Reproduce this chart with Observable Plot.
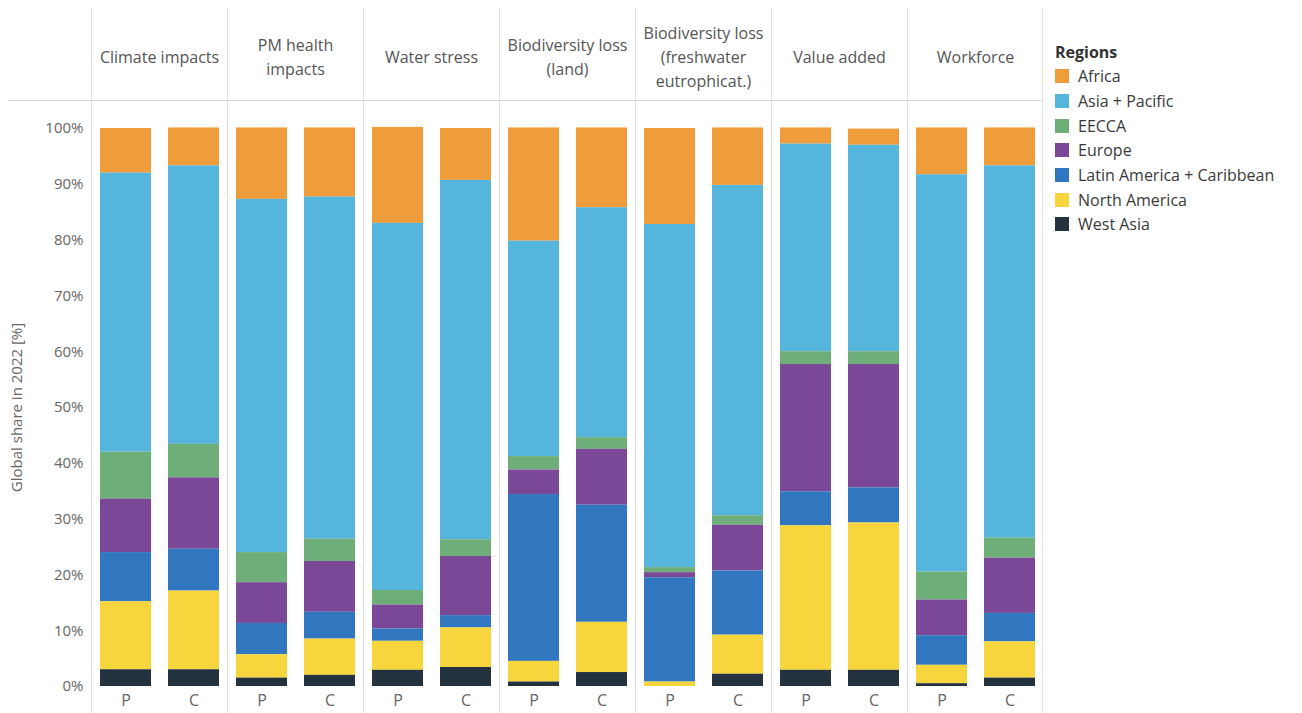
<!DOCTYPE html>
<html><head><meta charset="utf-8">
<script src="https://cdn.jsdelivr.net/npm/d3@7"></script>
<script src="https://cdn.jsdelivr.net/npm/@observablehq/plot@0.6"></script>
<style>
body{margin:0;background:#fff;font-family:"Open Sans",Lato,sans-serif;}
#wrap{position:relative;width:1302px;height:713px;overflow:hidden;}
#legend{position:absolute;left:1055px;top:40px;font-size:16px;color:#3a3a3a;}
#legend .ttl{font-weight:bold;height:24px;line-height:24px;color:#333;}
#legend .it{display:flex;align-items:center;height:24.7px;}
#legend .sw{width:14px;height:14px;margin-right:9px;}
</style></head>
<body><div id="wrap"><div id="chart"></div><div id="legend"></div></div>
<script>
const indicators = ["Climate impacts","PM health impacts","Water stress","Biodiversity loss (land)","Biodiversity loss (freshwater eutrophicat.)","Value added","Workforce"];
const headerLabels = ["Climate impacts","PM health\nimpacts","Water stress","Biodiversity loss\n(land)","Biodiversity loss\n(freshwater\neutrophicat.)","Value added","Workforce"];
const stages = ["P","C"];
const regions = ["Africa","Asia + Pacific","EECCA","Europe","Latin America + Caribbean","North America","West Asia"];
const colors = ["#EF9D3A","#55B5DC","#6EAE79","#7B4898","#3077BF","#F6D63C","#24313F"];
const stackOrder = ["West Asia","North America","Latin America + Caribbean","Europe","EECCA","Asia + Pacific","Africa"];

// values per indicator: P, C (percent of global total)
const africa       = [8.0, 6.8, 12.8, 12.4, 17.2, 9.3, 20.3, 14.3, 17.2, 10.3, 2.9, 2.9, 8.4, 6.8];
const asiaPacific  = [50.0, 49.9, 63.3, 61.3, 65.8, 64.4, 38.6, 41.2, 61.5, 59.2, 37.2, 37.0, 71.2, 66.7];
const eecca        = [8.4, 6.0, 5.4, 4.0, 2.6, 3.0, 2.4, 2.1, 0.9, 1.7, 2.3, 2.3, 5.0, 3.6];
const europe       = [9.6, 12.8, 7.3, 9.1, 4.3, 10.6, 4.4, 10.0, 0.9, 8.2, 22.8, 22.1, 6.4, 9.9];
const latinAmerica = [8.8, 7.5, 5.6, 4.8, 2.2, 2.2, 29.9, 21.0, 18.7, 11.5, 6.1, 6.3, 5.3, 5.1];
const northAmerica = [12.2, 14.1, 4.2, 6.5, 5.2, 7.1, 3.7, 9.0, 0.8, 7.0, 25.9, 26.4, 3.3, 6.5];
const westAsia     = [3.0, 3.0, 1.5, 2.0, 2.9, 3.4, 0.8, 2.5, 0.0, 2.2, 2.9, 2.9, 0.5, 1.5];
const yTicks = [0,10,20,30,40,50,60,70,80,90,100];

const series = [africa, asiaPacific, eecca, europe, latinAmerica, northAmerica, westAsia];
const data = [];
regions.forEach((r, k) => {
  indicators.forEach((ind, i) => {
    stages.forEach((s, j) => {
      data.push({indicator: ind, stage: s, region: r, value: series[k][i*2+j]});
    });
  });
});

const plot = Plot.plot({
  width: 1043, height: 713,
  marginLeft: 90, marginRight: 0, marginTop: 128, marginBottom: 27,
  style: {fontFamily: "'Open Sans', Lato, sans-serif", fontSize: "16px", color: "#666", background: "transparent"},
  fx: {domain: indicators, padding: 0, axis: null},
  x: {domain: stages, paddingInner: 0.25, paddingOuter: 0.125},
  y: {domain: [0, 100]},
  color: {domain: regions, range: colors},
  marks: [
    Plot.axisY({ticks: yTicks, tickFormat: d => d + "%", tickSize: 0, tickPadding: 8, label: "Global share in 2022 [%]", labelAnchor: "center", labelOffset: 80, labelArrow: "none", fontSize: 15}),
    Plot.axisX({tickSize: 0, tickPadding: 8, label: null, fontSize: 16}),
    Plot.barY(data, Plot.stackY({order: stackOrder}, {fx: "indicator", x: "stage", y: "value", fill: "region"})),
    Plot.text(indicators, {fx: d => d, text: d => headerLabels[indicators.indexOf(d)], frameAnchor: "top", dy: -73, lineAnchor: "middle", lineHeight: 1.5, fill: "#555", fontSize: 16})
  ]
});

// decorative facet dividers and header underline
const fx = plot.scale("fx");
const svg = d3.select(plot);
const g = svg.insert("g", ":first-child").attr("stroke", "#e2e2e2").attr("stroke-width", 1);
const edges = indicators.map(d => fx.apply(d));
edges.push(fx.apply(indicators[indicators.length - 1]) + fx.bandwidth - 1);
edges.forEach(x => {
  g.append("line").attr("x1", Math.round(x) + 0.5).attr("x2", Math.round(x) + 0.5).attr("y1", 8).attr("y2", 713);
});
g.append("line").attr("x1", 8).attr("x2", Math.round(edges[edges.length - 1]) + 0.5).attr("y1", 100.5).attr("y2", 100.5).attr("stroke", "#d6d6d6");

document.getElementById("chart").appendChild(plot);

const legend = d3.select("#legend");
legend.append("div").attr("class", "ttl").text("Regions");
regions.forEach((r, i) => {
  const it = legend.append("div").attr("class", "it");
  it.append("div").attr("class", "sw").style("background", colors[i]);
  it.append("span").text(r);
});
</script>
</body></html>
